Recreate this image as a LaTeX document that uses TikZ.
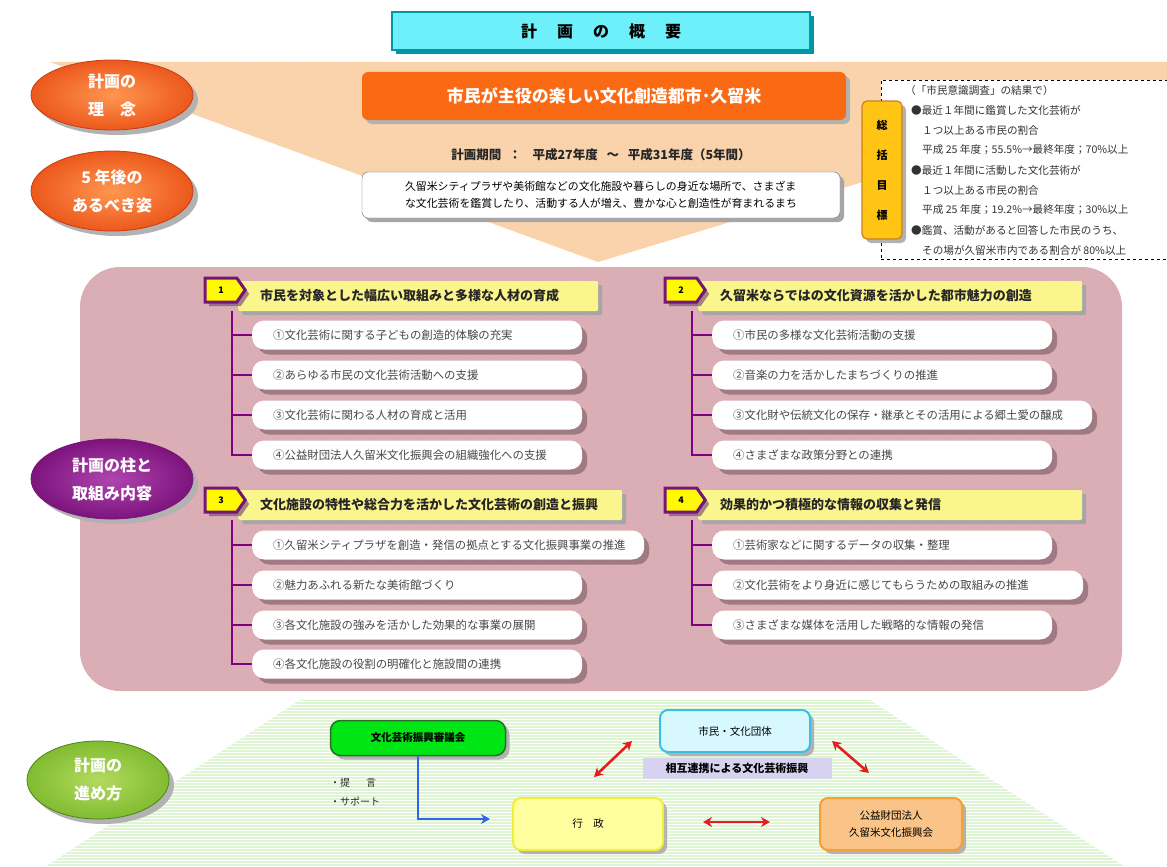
\documentclass[tikz,border=0pt]{standalone}
\usepackage{fontspec}
\setmainfont{Noto Sans CJK JP}
\usetikzlibrary{shapes.geometric,shapes.symbols,shadows,arrows.meta,patterns,calc}
\definecolor{peach}{RGB}{250,210,170}
\definecolor{ovin}{RGB}{255,150,80}
\definecolor{ovout}{RGB}{236,88,28}
\definecolor{ovline}{RGB}{200,60,20}
\definecolor{obar}{RGB}{250,105,20}
\definecolor{tcyan}{RGB}{110,240,250}
\definecolor{tteal}{RGB}{0,150,165}
\definecolor{pinkbg}{RGB}{218,172,180}
\definecolor{puin}{RGB}{175,70,175}
\definecolor{puout}{RGB}{125,20,125}
\definecolor{hyellow}{RGB}{250,245,140}
\definecolor{byellow}{RGB}{255,250,0}
\definecolor{bpurple}{RGB}{120,20,120}
\definecolor{brpurple}{RGB}{128,0,128}
\definecolor{ishadow}{RGB}{160,122,130}
\definecolor{greenbg}{RGB}{222,245,212}
\definecolor{grin}{RGB}{180,218,95}
\definecolor{grout}{RGB}{128,188,48}
\definecolor{grline}{RGB}{80,130,30}
\definecolor{gbox}{RGB}{0,230,20}
\definecolor{gboxline}{RGB}{40,110,40}
\definecolor{cboxfill}{RGB}{215,248,255}
\definecolor{cboxline}{RGB}{60,190,230}
\definecolor{lav}{RGB}{215,210,240}
\definecolor{oboxfill}{RGB}{250,195,135}
\definecolor{oboxline}{RGB}{245,160,50}
\definecolor{yboxfill}{RGB}{255,255,160}
\definecolor{yboxline}{RGB}{240,240,60}
\definecolor{redar}{RGB}{230,30,30}
\definecolor{bluear}{RGB}{50,100,240}
\definecolor{gold}{RGB}{255,196,20}
\definecolor{goldline}{RGB}{200,130,30}
\newcommand\itm[2]{\makebox[#1pt][l]{\hspace{21pt}#2}}
\newcommand\hdr[2]{\makebox[#1pt][l]{\hspace{22pt}#2}}
\tikzset{
  shad/.style={drop shadow={shadow xshift=4pt, shadow yshift=-4pt, fill=#1, opacity=1}},
  oval/.style={ellipse, minimum width=162pt, minimum height=74pt, inner sep=0pt, text=white,
    align=center, font=\bfseries\fontsize{16}{28}\selectfont, drop shadow={shadow xshift=5pt, shadow yshift=-5pt, fill=black!30, opacity=1}},
  ovor/.style={oval, draw=ovline, line width=0.8pt, inner color=ovin, outer color=ovout},
  titlebox/.style={fill=tcyan, draw=tteal, line width=1.2pt, minimum width=418pt, minimum height=38pt,
    inner sep=0pt, font=\bfseries\fontsize{16}{18}\selectfont, shad=tteal},
  orangebar/.style={fill=obar, rounded corners=6pt, minimum width=484pt, minimum height=48pt,
    text=white, font=\bfseries\fontsize{17}{19}\selectfont, shad=black!30},
  wbox/.style={fill=white, draw=black!60, rounded corners=6pt, minimum width=478pt, minimum height=46pt,
    align=left, inner sep=0pt, font=\fontsize{10.9}{17}\selectfont, shad=black!35},
  dashbox/.style={draw=black, dashed, line width=1pt, fill=white, minimum width=300pt, minimum height=179pt, inner sep=0pt},
  dtxt/.style={anchor=west, inner sep=0pt, font=\fontsize{10.6}{12}\selectfont, text=black!80},
  goldbox/.style={fill=gold, draw=goldline, line width=1.2pt, rounded corners=5pt, minimum width=40pt,
    minimum height=138pt, inner sep=0pt, align=center, font=\bfseries\fontsize{11}{30}\selectfont, shad=black!30},
  hbar/.style={anchor=west, fill=hyellow, rounded corners=2pt, minimum height=30pt, inner sep=0pt,
    font=\bfseries\fontsize{13}{15}\selectfont, text=black!85, shad=black!35},
  badge/.style={signal, signal to=east, signal pointer angle=110, minimum width=40pt, minimum height=24pt,
    fill=byellow, draw=bpurple, line width=3pt, inner sep=0pt, font=\bfseries\fontsize{9}{10}\selectfont,
    drop shadow={shadow xshift=4pt, shadow yshift=-4pt, fill=bpurple!40!gray, opacity=.7}},
  item/.style={anchor=west, fill=white, rounded corners=12pt, minimum height=29pt, inner sep=0pt,
    font=\fontsize{11.4}{13}\selectfont, text=black!72,
    drop shadow={shadow xshift=5pt, shadow yshift=-5pt, fill=ishadow, opacity=1}},
  branch/.style={draw=brpurple, line width=2.5pt},
  rbox/.style={rounded corners=8pt, inner sep=0pt, align=center, shad=black!30},
  redarrow/.style={draw=redar, line width=2.6pt, {Stealth[length=9pt,width=10pt]}-{Stealth[length=9pt,width=10pt]}},
  bluearrow/.style={draw=bluear, line width=2.6pt, -{Stealth[length=9pt,width=10pt]}},
  plain/.style={inner sep=0pt, font=\fontsize{10}{12}\selectfont, text=black!85}
}
\begin{document}
\begin{tikzpicture}[x=1pt,y=-1pt]
\useasboundingbox (0,0) rectangle (1167,867);
\fill[white] (0,0) rectangle (1167,867);
% peach funnel
\fill[peach] (50,62) -- (1167,62) -- (1167,90) -- (598,262) -- cycle;
\fill[pattern=dots, pattern color=white, opacity=0.35] (50,62) -- (1167,62) -- (1167,90) -- (598,262) -- cycle;
% title
\node[titlebox] (title) at (601,31) {計\hspace{1.25em}画\hspace{1.25em}の\hspace{1.25em}概\hspace{1.25em}要};
% philosophy
\node[orangebar] (idea) at (604,96) {市民が主役の楽しい文化創造都市･久留米};
\node[inner sep=0pt, font=\bfseries\fontsize{12.5}{14}\selectfont, text=black!85] (period) at (601,155)
  {計画期間\hspace{0.6em}：\hspace{0.9em}平成27年度\hspace{0.7em}～\hspace{0.7em}平成31年度（5年間）};
\node[wbox] (vision) at (601,195) {久留米シティプラザや美術館などの文化施設や暮らしの身近な場所で、さまざま\\な文化芸術を鑑賞したり、活動する人が増え、豊かな心と創造性が育まれるまち};
% goals
\node[dashbox] (db) at (1031,169.5) {};
\foreach \xx/\dtext [count=\i] in {905/（「市民意識調査」の結果で）, 911/●最近１年間に鑑賞した文化芸術が, 922/１つ以上ある市民の割合, 922/平成 25 年度；55.5\%→最終年度；70\%以上, 911/●最近１年間に活動した文化芸術が, 922/１つ以上ある市民の割合, 922/平成 25 年度；19.2\%→最終年度；30\%以上, 911/●鑑賞、活動があると回答した市民のうち、, 922/その場が久留米市内である割合が 80\%以上}
  \node[dtxt] (d\i) at (\xx,70+20*\i) {\dtext};
\node[goldbox] (goal) at (882,170) {総\\括\\目\\標};
% left ovals
\node[ovor] (o1) at (112,95) [minimum height=70pt] {計画の\\理\hspace{1em}念};
\node[ovor] (o2) at (112,191) [minimum height=80pt] {5 年後の\\あるべき姿};
% pink area
\fill[pinkbg] (80,267) [rounded corners=40pt] rectangle (1122,691);
\fill[pattern=crosshatch dots, pattern color=white, opacity=0.12] (80,267) [rounded corners=40pt] rectangle (1122,691);
\node[oval, draw=bpurple, line width=0.8pt, inner color=puin, outer color=puout, minimum height=80pt] (o3) at (112,479) {計画の柱と\\取組み内容};
% section 1
\node[hbar] (h1) at (238,296) {\hdr{360}{市民を対象とした幅広い取組みと多様な人材の育成}};
\node[badge] (b1) at (221,290) {1};
\node[item] (a1) at (252,335) {\itm{330}{①文化芸術に関する子どもの創造的体験の充実}};
\node[item] (a2) at (252,375) {\itm{330}{②あらゆる市民の文化芸術活動への支援}};
\node[item] (a3) at (252,415) {\itm{330}{③文化芸術に関わる人材の育成と活用}};
\node[item] (a4) at (252,455) {\itm{330}{④公益財団法人久留米文化振興会の組織強化への支援}};
\coordinate (v1) at (232,311);
\draw[branch] (v1) |- (a4.west);
\foreach \k in {a1,a2,a3} \draw[branch] (v1 |- \k.west) -- (\k.west);
% section 2
\node[hbar] (h2) at (698,296) {\hdr{384}{久留米ならではの文化資源を活かした都市魅力の創造}};
\node[badge] (b2) at (681,290) {2};
\node[item] (c1) at (712,335) {\itm{340}{①市民の多様な文化芸術活動の支援}};
\node[item] (c2) at (712,375) {\itm{340}{②音楽の力を活かしたまちづくりの推進}};
\node[item] (c3) at (712,415) {\itm{380}{③文化財や伝統文化の保存・継承とその活用による郷土愛の醸成}};
\node[item] (c4) at (712,455) {\itm{340}{④さまざまな政策分野との連携}};
\coordinate (v2) at (692,311);
\draw[branch] (v2) |- (c4.west);
\foreach \k in {c1,c2,c3} \draw[branch] (v2 |- \k.west) -- (\k.west);
% section 3
\node[hbar] (h3) at (238,505) {\hdr{384}{文化施設の特性や総合力を活かした文化芸術の創造と振興}};
\node[badge] (b3) at (221,500) {3};
\node[item] (e1) at (252,545) {\itm{392}{①久留米シティプラザを創造・発信の拠点とする文化振興事業の推進}};
\node[item] (e2) at (252,585) {\itm{330}{②魅力あふれる新たな美術館づくり}};
\node[item] (e3) at (252,625) {\itm{330}{③各文化施設の強みを活かした効果的な事業の展開}};
\node[item] (e4) at (252,664) {\itm{330}{④各文化施設の役割の明確化と施設間の連携}};
\coordinate (v3) at (232,520);
\draw[branch] (v3) |- (e4.west);
\foreach \k in {e1,e2,e3} \draw[branch] (v3 |- \k.west) -- (\k.west);
% section 4
\node[hbar] (h4) at (698,505) {\hdr{384}{効果的かつ積極的な情報の収集と発信}};
\node[badge] (b4) at (681,500) {4};
\node[item] (f1) at (712,545) {\itm{340}{①芸術家などに関するデータの収集・整理}};
\node[item] (f2) at (712,585) {\itm{371}{②文化芸術をより身近に感じてもらうための取組みの推進}};
\node[item] (f3) at (712,625) {\itm{340}{③さまざまな媒体を活用した戦略的な情報の発信}};
\coordinate (v4) at (692,520);
\draw[branch] (v4) |- (f3.west);
\foreach \k in {f1,f2} \draw[branch] (v4 |- \k.west) -- (\k.west);
% bottom green area
\fill[greenbg] (300,700) -- (870,700) -- (1125,867) -- (45,867) -- cycle;
\fill[pattern=horizontal lines, pattern color=white] (300,700) -- (870,700) -- (1125,867) -- (45,867) -- cycle;
\node[oval, draw=grline, line width=0.8pt, inner color=grin, outer color=grout, minimum width=142pt, minimum height=78pt] (o4) at (98,780) {計画の\\進め方};
\node[rbox, fill=gbox, draw=gboxline, line width=1.5pt, rounded corners=10pt, minimum width=175pt, minimum height=35pt,
  font=\bfseries\fontsize{10.5}{12}\selectfont] (council) at (418,738) {文化芸術振興審議会};
\node[plain, anchor=west] (p1) at (330,783) {・提\hspace{1.6em}言};
\node[plain, anchor=west] (p2) at (330,801) {・サポート};
\node[rbox, fill=yboxfill, draw=yboxline, line width=2pt, minimum width=150pt, minimum height=52pt,
  font=\fontsize{10.5}{12}\selectfont] (gov) at (588,824) {行\hspace{1em}政};
\coordinate (bend) at (490,819);
\draw[bluearrow] (council.south) |- (bend);
\node[rbox, fill=cboxfill, draw=cboxline, line width=2pt, minimum width=150pt, minimum height=42pt,
  font=\fontsize{10.5}{12}\selectfont] (citizens) at (735,731) {市民・文化団体};
\node[inner sep=0pt, fill=lav, minimum width=189pt, minimum height=21pt,
  font=\bfseries\fontsize{11}{13}\selectfont] (mutual) at (737,768) {相互連携による文化芸術振興};
\node[rbox, fill=oboxfill, draw=oboxline, line width=2pt, minimum width=142pt, minimum height=52pt,
  font=\fontsize{10.5}{17}\selectfont] (found) at (891,824) {公益財団法人\\久留米文化振興会};
\coordinate (r1a) at (594,777); \coordinate (r1b) at (632,741);
\coordinate (r2a) at (832,741); \coordinate (r2b) at (869,773);
\coordinate (r3a) at (703,822); \coordinate (r3b) at (770,822);
\draw[redarrow] (r1a) -- (r1b);
\draw[redarrow] (r2a) -- (r2b);
\draw[redarrow] (r3a) -- (r3b);
\end{tikzpicture}
\end{document}
